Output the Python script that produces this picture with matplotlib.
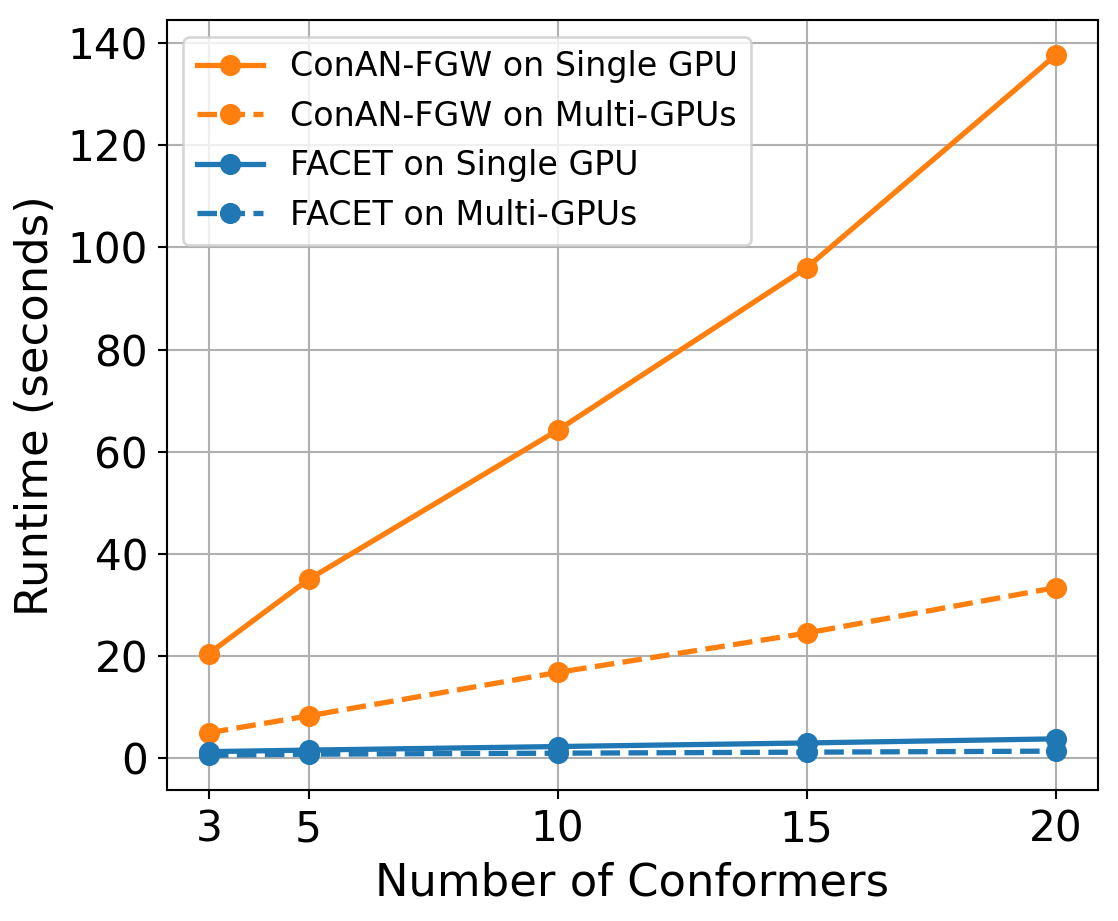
import matplotlib.pyplot as plt

conformers = [3, 5, 10, 15, 20]
conan_single = [20.5, 35.0, 64.2, 96.0, 137.6]
conan_multi = [5.0, 8.3, 16.8, 24.5, 33.4]
facet_single = [1.3, 1.6, 2.3, 3.0, 3.8]
facet_multi = [0.6, 0.8, 1.0, 1.2, 1.4]

DPI = 190
fig, ax = plt.subplots(figsize=(1118 / DPI, 921 / DPI), dpi=DPI)
fig.subplots_adjust(left=0.149, right=0.982, top=0.978, bottom=0.142)

ax.plot(conformers, conan_single, "-o", color="tab:orange", lw=2, ms=7,
        label="ConAN-FGW on Single GPU")
ax.plot(conformers, conan_multi, "--o", color="tab:orange", lw=2, ms=7,
        label="ConAN-FGW on Multi-GPUs")
ax.plot(conformers, facet_single, "-o", color="tab:blue", lw=2, ms=7,
        label="FACET on Single GPU")
ax.plot(conformers, facet_multi, "--o", color="tab:blue", lw=2, ms=7,
        label="FACET on Multi-GPUs")

ax.set_xticks(conformers)
ax.tick_params(labelsize=16)
ax.set_xlabel("Number of Conformers", fontsize=17)
ax.set_ylabel("Runtime (seconds)", fontsize=17)
ax.grid(True)
ax.legend(loc="upper left", fontsize=12.6)

fig.savefig("out.png", dpi=DPI)
